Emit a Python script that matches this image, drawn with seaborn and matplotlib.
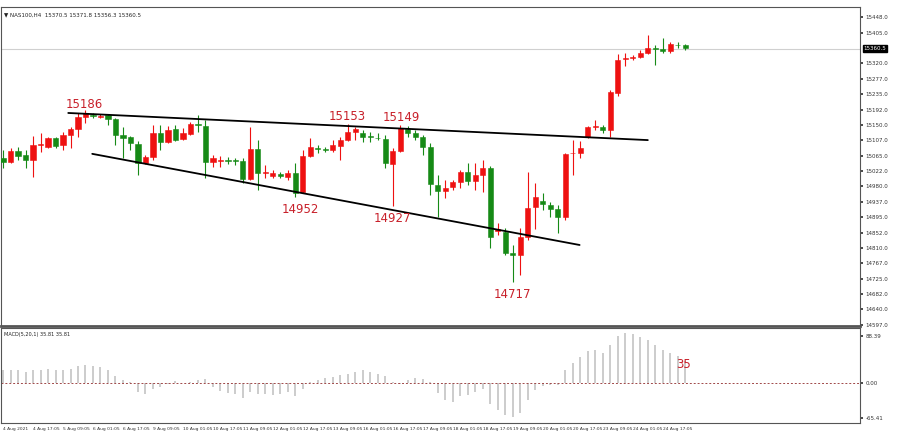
import numpy as np
import seaborn as sns
import matplotlib.pyplot as plt

# NAS100 H4 candles
opens = [15058, 15047, 15078, 15067, 15053, 15094, 15089, 15114, 15094, 15122,
         15139, 15172, 15177, 15172, 15177, 15166, 15122, 15117, 15097, 15045,
         15061, 15128, 15103, 15139, 15111, 15125, 15152, 15147, 15047, 15051,
         15054, 15052, 15050, 15000, 15083, 15017, 15009, 15014, 15006, 15017,
         14965, 15064, 15086, 15083, 15081, 15092, 15108, 15130, 15128, 15118,
         15115, 15111, 15042, 15078, 15139, 15128, 15117, 15089, 14984, 14967,
         14978, 14992, 15020, 14995, 15011, 15031, 14857, 14854, 14796, 14790,
         14840, 14923, 14940, 14929, 14918, 14895, 15071, 15072, 15116, 15143,
         15144, 15136, 15238, 15331, 15334, 15337, 15349, 15362, 15360, 15354,
         15372, 15371]
closes = [15047, 15078, 15064, 15053, 15094, 15097, 15114, 15092, 15122, 15139,
          15172, 15183, 15175, 15176, 15165, 15122, 15115, 15100, 15045, 15061,
          15128, 15103, 15136, 15108, 15128, 15152, 15150, 15047, 15058, 15054,
          15051, 15050, 15000, 15083, 15017, 15020, 15017, 15009, 15017, 14962,
          15064, 15089, 15083, 15080, 15094, 15108, 15130, 15139, 15117, 15116,
          15113, 15045, 15078, 15141, 15128, 15117, 15089, 14987, 14967, 14976,
          14992, 15020, 14995, 15011, 15031, 14840, 14862, 14796, 14790, 14840,
          14920, 14951, 14931, 14918, 14895, 15070, 15073, 15086, 15144, 15146,
          15136, 15241, 15329, 15334, 15337, 15349, 15362, 15360, 15354, 15373,
          15371, 15362]
highs = [15081, 15086, 15089, 15081, 15119, 15127, 15117, 15117, 15130, 15144,
         15183, 15191, 15183, 15180, 15180, 15169, 15144, 15119, 15105, 15067,
         15150, 15150, 15147, 15150, 15141, 15158, 15177, 15163, 15067, 15064,
         15061, 15058, 15058, 15144, 15108, 15039, 15025, 15020, 15025, 15045,
         15081, 15114, 15094, 15089, 15108, 15117, 15153, 15144, 15136, 15130,
         15127, 15122, 15086, 15149, 15147, 15136, 15122, 15100, 15011, 14998,
         14998, 15025, 15045, 15045, 15053, 15036, 14879, 14865, 14818, 14865,
         15020, 14989, 14962, 14937, 14929, 15072, 15108, 15105, 15147, 15163,
         15150, 15246, 15346, 15349, 15343, 15357, 15398, 15371, 15390, 15379,
         15379, 15373]
lows = [15031, 15045, 15053, 15031, 15006, 15075, 15086, 15086, 15081, 15086,
        15117, 15155, 15169, 15169, 15150, 15094, 15058, 15081, 15011, 15042,
        15053, 15081, 15100, 15105, 15108, 15122, 15130, 15003, 15034, 15034,
        15042, 15040, 14989, 14998, 14970, 15003, 15003, 15003, 14998, 14952,
        14962, 15061, 15072, 15075, 15075, 15053, 15105, 15108, 15103, 15103,
        15108, 15031, 14927, 15075, 15117, 15108, 15067, 14956, 14895, 14948,
        14970, 14976, 14984, 14970, 14965, 14810, 14846, 14790, 14717, 14735,
        14832, 14862, 14915, 14895, 14851, 14887, 15011, 15058, 15114, 15136,
        15128, 15117, 15230, 15313, 15329, 15335, 15346, 15315, 15349, 15349,
        15362, 15357]
macd = [23.8, 23.8, 23.8, 20.0, 23.8, 23.8, 26.3, 23.8, 25.0, 26.3,
        32.6, 34.5, 32.0, 29.5, 23.8, 12.5, 5.0, 2.0, -17.0, -20.0,
        -10.7, -7.5, -1.3, 3.0, 0.5, 2.0, 5.0, 8.0, -7.5, -15.0,
        -19.0, -20.0, -27.6, -17.0, -20.0, -21.0, -23.0, -20.0, -17.0, -25.0,
        -10.7, 2.0, 5.0, 10.0, 11.3, 15.7, 17.6, 20.7, 23.8, 20.7,
        17.6, 12.5, 1.3, -1.3, 6.3, 9.4, 8.0, 2.0, -19.0, -32.6,
        -35.7, -25.0, -23.0, -17.0, -10.7, -38.9, -50.0, -60.0, -64.0, -56.0,
        -32.6, -13.8, -6.3, -3.0, -4.4, 23.8, 37.6, 49.0, 59.6, 61.4,
        57.0, 70.9, 87.8, 92.8, 91.0, 85.3, 80.3, 72.0, 61.4, 56.4,
        50.2, 40.8]
date_labels = ["4 Aug 2021", "4 Aug 17:05", "5 Aug 09:05", "6 Aug 01:05", "6 Aug 17:05",
               "9 Aug 09:05", "10 Aug 01:05", "10 Aug 17:05", "11 Aug 09:05", "12 Aug 01:05",
               "12 Aug 17:05", "13 Aug 09:05", "16 Aug 01:05", "16 Aug 17:05", "17 Aug 09:05",
               "18 Aug 01:05", "18 Aug 17:05", "19 Aug 09:05", "20 Aug 01:05", "20 Aug 17:05",
               "23 Aug 09:05", "24 Aug 01:05", "24 Aug 17:05"]
price_ticks = [15448.0, 15405.0, 15320.0, 15277.0, 15235.0, 15192.0, 15150.0,
               15107.0, 15065.0, 15022.0, 14980.0, 14937.0, 14895.0, 14852.0, 14810.0,
               14767.0, 14725.0, 14682.0, 14640.0, 14597.0]
last_price = 15360.5
upper_line = ([8.7, 86.0], [15183, 15108])
lower_line = ([11.9, 76.9], [15070, 14818])
swing_labels = [(10.8, 15186, "15186"), (45.9, 15153, "15153"), (53.1, 15149, "15149"),
                (39.6, 14952, "14952"), (51.9, 14927, "14927"), (68.0, 14717, "14717")]

sns.set_theme(style="white")
plt.rcParams['font.family'] = ['DejaVu Sans']

fig = plt.figure(figsize=(9, 4.34), dpi=100)
W, H = 900, 434
ax = fig.add_axes([1 / W, 1 - 326 / H, 859 / W, 319 / H])
axm = fig.add_axes([1 / W, 1 - 423 / H, 859 / W, 95 / H])

red, green = "#ee1111", "#168a16"
x = np.arange(len(opens))
for i in x:
    o, c = opens[i], closes[i]
    col = red if c >= o else green
    ax.vlines(i, lows[i], highs[i], color=col, lw=0.8, zorder=2)
    ax.bar(i, max(abs(c - o), 1.2), bottom=min(o, c), width=0.68, color=col,
           edgecolor=col, lw=0.4, zorder=3)

ax.plot(*upper_line, color="black", lw=1.3, zorder=4)
ax.plot(*lower_line, color="black", lw=1.3, zorder=4)
for xi, p, t in swing_labels:
    va = "bottom" if p > 15100 else "top"
    off = 3 if va == "bottom" else -18
    ax.text(xi, p + off, t, color="#c8202a", fontsize=8.5, ha="center", va=va, zorder=5)

ax.axhline(last_price, color="#d0d0d0", lw=0.8, zorder=1)
ax.set_xlim(-0.27, 114.3)
ax.set_ylim(14594, 15476)
ax.yaxis.tick_right()
ax.set_yticks(price_ticks)
ax.set_yticklabels([f"{t:.1f}" for t in price_ticks], fontsize=4)
ax.tick_params(axis="y", length=2, pad=2, colors="#333333")
ax.set_xticks([])
ax.text(1.004, (last_price - 14594) / (15476 - 14594), f"{last_price:.1f}",
        transform=ax.transAxes, fontsize=4, color="white", va="center", ha="left",
        bbox=dict(boxstyle="square,pad=0.15", fc="black", ec="black"))
ax.text(0.003, 0.985, "\u25bc NAS100,H4  15370.5 15371.8 15356.3 15360.5",
        transform=ax.transAxes, fontsize=4, va="top", color="#222222")

axm.vlines(x, 0, macd, color="#c8c8c8", lw=1.3)
axm.axhline(0, color="#a04848", lw=0.7, ls=(0, (2, 2)))
axm.text(90.8, 35, "35", color="#c8202a", fontsize=8.5, ha="center", va="center")
axm.set_xlim(-0.27, 114.3)
axm.set_ylim(-75, 103)
axm.yaxis.tick_right()
axm.set_yticks([88.39, 0.0, -65.41])
axm.set_yticklabels(["88.39", "0.00", "-65.41"], fontsize=4)
axm.tick_params(axis="y", length=2, pad=2, colors="#333333")
axm.set_xticks(np.arange(0, len(date_labels) * 4, 4))
axm.set_xticklabels(date_labels, fontsize=3.2, ha="left")
axm.tick_params(axis="x", length=2, pad=1, colors="#333333")
axm.text(0.003, 0.96, "MACD(5,20,1) 35.81 35.81", transform=axm.transAxes,
         fontsize=3.6, va="top", color="#222222")

for a in (ax, axm):
    for s in a.spines.values():
        s.set_color("#555555")
        s.set_linewidth(0.8)
ax.spines["bottom"].set_linewidth(2)

fig.savefig("out.png", dpi=100)
